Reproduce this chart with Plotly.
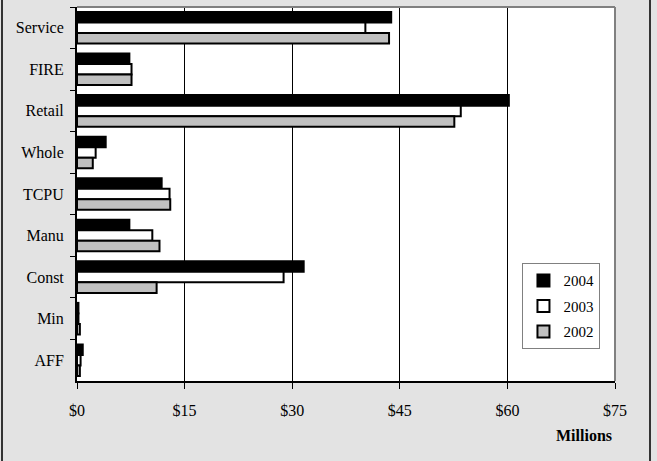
import plotly.graph_objects as go

categories = ["Service", "FIRE", "Retail", "Whole", "TCPU", "Manu", "Const", "Min", "AFF"]
v2004 = [43.8, 7.3, 60.2, 4.0, 11.8, 7.3, 31.6, 0.2, 0.8]
v2003 = [40.2, 7.6, 53.5, 2.6, 12.9, 10.5, 28.8, 0.2, 0.5]
v2002 = [43.5, 7.6, 52.6, 2.2, 13.0, 11.5, 11.1, 0.4, 0.4]
x_ticks = [0, 15, 30, 45, 60, 75]
x_tick_labels = ["&#36;" + str(v) for v in x_ticks]

FONT = "Liberation Serif, Times New Roman, serif"

fig = go.Figure()
for name, vals, col in [("2004", v2004, "#000000"),
                        ("2003", v2003, "#ffffff"),
                        ("2002", v2002, "#c0c0c0")]:
    fig.add_trace(go.Bar(
        y=categories, x=vals, name=name, orientation="h",
        legendgroup=name,
        marker=dict(color=col, line=dict(color="#000000", width=2)),
    ))

fig.update_layout(
    width=657, height=461,
    margin=dict(l=77, r=42, t=7, b=80),
    paper_bgcolor="#e3e3e3",
    plot_bgcolor="#ffffff",
    barmode="group",
    bargap=0.24,
    bargroupgap=0,
    font=dict(family=FONT, size=16, color="#000000"),
    showlegend=True,
    legend=dict(
        x=0.828, y=0.315, xanchor="left", yanchor="top",
        bgcolor="#ffffff", bordercolor="#808080", borderwidth=1,
        font=dict(family=FONT, size=15),
        tracegroupgap=3,
        itemwidth=30,
    ),
    xaxis=dict(
        range=[0, 75], tickvals=x_ticks, ticktext=x_tick_labels,
        showgrid=True, gridcolor="#000000", gridwidth=1,
        showline=True, linecolor="#000000", linewidth=2,
        ticks="outside", ticklen=6, tickcolor="#000000", tickwidth=1,
        zeroline=False, ticklabelstandoff=8,
        tickfont=dict(size=16),
    ),
    yaxis=dict(
        autorange="reversed", type="category",
        showline=True, linecolor="#000000", linewidth=2,
        ticks="outside", ticklen=5, tickcolor="#000000", tickwidth=1,
        tickson="boundaries", showgrid=False,
        ticklabelstandoff=8,
        tickfont=dict(size=16),
    ),
    shapes=[
        dict(type="line", xref="paper", yref="paper", x0=0, x1=1, y0=1, y1=1,
             line=dict(color="#808080", width=2)),
        dict(type="line", xref="paper", yref="paper", x0=1, x1=1, y0=0, y1=1,
             line=dict(color="#808080", width=2)),
        dict(type="line", xref="paper", yref="paper",
             x0=(2 - 77) / 538, x1=(2 - 77) / 538, y0=-0.3, y1=1.1,
             line=dict(color="#333333", width=2)),
        dict(type="line", xref="paper", yref="paper",
             x0=(650 - 77) / 538, x1=(650 - 77) / 538, y0=-0.3, y1=1.1,
             line=dict(color="#333333", width=2)),
    ],
    annotations=[
        dict(text="<b>Millions</b>", xref="paper", yref="paper",
             x=(584 - 77) / 538, y=(381 - 436) / 374,
             showarrow=False, xanchor="center", yanchor="middle",
             font=dict(family=FONT, size=16)),
    ],
)

fig.write_html(
    "out.html",
    config={"displayModeBar": False},
    post_script="document.body.style.margin='0';document.body.style.overflow='hidden';",
)
